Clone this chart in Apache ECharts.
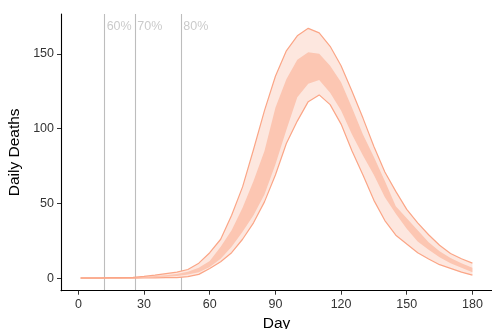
<!DOCTYPE html>
<html><head><meta charset="utf-8">
<script src="https://cdn.jsdelivr.net/npm/echarts@6/dist/echarts.min.js"></script>
<style>html,body{margin:0;padding:0;background:#fff}#c{width:492px;height:329px}</style>
</head><body><div id="c"></div>
<script>
const days = [1,5,10,15,20,25,30,35,40,45,50,55,60,65,70,75,80,85,90,95,100,105,110,115,120,125,130,135,140,145,150,155,160,165,170,175,180];
const outerUpper = [0.2,0.2,0.2,0.3,0.3,0.5,1.2,2.0,3.0,4.0,5.8,10,17,26,42,61,86,112,135,152,162,167,164,155,142,125,107,88,71,58,46,37,29,22,16.5,13,10];
const innerUpper = [0.1,0.1,0.1,0.2,0.2,0.3,0.8,1.4,2.0,2.8,4.2,7,11.5,21,32,47,65,85,114,133,146,151,150,142,131,114,96,81,65,48,40,32,24,18,13.5,10,7];
const innerLower = [0,0,0,0.1,0.1,0.2,0.4,0.7,1.0,1.5,2.4,4,7.5,13,21,31,42,56,76,99,121,130,132.5,124,112,96,82,69,54,43,33,24.5,19,14,10,7,4];
const outerLower = [0,0,0,0,0,0,0.1,0.2,0.3,0.4,1.0,2.5,6.5,11,17,26,37,51,69,90,105,118,122.5,116,103,85,69,52,38.5,28.7,22.8,17,12.8,9,6.5,4,2];
const markerDays = [12,26,47];
const markerLabels = ['60%','70%','80%'];
const xTicks = [0,30,60,90,120,150,180];
const yTicks = [0,50,100,150];

const LIGHT = '#FDE7DF', DARK = '#FCC6B2', LINE = '#FBA687';
const pairs = arr => days.map((d,i)=>[d, arr[i]]);
const labelY = 168;

// band polygon between two curves, drawn through the axis scales
function band(upper, lower, color, z){
  return {type:'custom', silent:true, z:z,
    data:[[0]],
    renderItem:(params, api)=>{
      const pts = [];
      days.forEach((d,i)=>pts.push(api.coord([d, upper[i]])));
      for(let i=days.length-1;i>=0;i--) pts.push(api.coord([days[i], lower[i]]));
      return {type:'polygon', shape:{points:pts}, style:{fill:color}};
    }};
}

const chart = echarts.init(document.getElementById('c'), null, {renderer:'canvas'});
chart.setOption({
  animation:false,
  grid:{left:61, right:0, top:14, bottom:38.3, containLabel:false, outerBoundsMode:'none'},
  xAxis:{type:'value', min:-7.95, max:188.95,
    name:'Day', nameLocation:'middle', nameGap:22,
    nameTextStyle:{fontSize:15.5, color:'#000', fontFamily:'Liberation Sans'},
    axisLine:{show:true, onZero:false, lineStyle:{color:'#000', width:1.1}},
    axisTick:{show:true, length:4, customValues:xTicks, lineStyle:{color:'#333', width:1}},
    axisLabel:{customValues:xTicks, margin:7, fontSize:12.5, color:'#333', fontFamily:'Liberation Sans'},
    splitLine:{show:false}},
  yAxis:{type:'value', min:-8.4, max:176.6,
    name:'Daily Deaths', nameLocation:'middle', nameGap:26,
    nameTextStyle:{fontSize:15.5, color:'#000', fontFamily:'Liberation Sans'},
    axisLine:{show:true, onZero:false, lineStyle:{color:'#000', width:1.1}},
    axisTick:{show:true, length:4, customValues:yTicks, lineStyle:{color:'#333', width:1}},
    axisLabel:{customValues:yTicks, margin:7, fontSize:12.5, color:'#333', fontFamily:'Liberation Sans'},
    splitLine:{show:false}},
  series:[
    band(outerUpper, outerLower, LIGHT, 1),
    band(innerUpper, innerLower, DARK, 2),
    {type:'line', data:pairs(outerUpper), symbol:'none', silent:true, z:3, lineStyle:{color:LINE, width:1.2}},
    {type:'line', data:pairs(outerLower), symbol:'none', silent:true, z:3, lineStyle:{color:LINE, width:1.2}},
    {type:'scatter', symbolSize:0, silent:true, z:4,
      data: markerDays.map((d,i)=>[d, labelY, markerLabels[i]]),
      label:{show:true, position:'right', distance:2, formatter:p=>p.value[2], fontSize:12.5, color:'#bdbdbd', fontFamily:'Liberation Sans'},
      markLine:{silent:true, symbol:['none','none'], label:{show:false}, z:0,
        lineStyle:{color:'#bdbdbd', type:'solid', width:1.1},
        data: markerDays.map(d=>({xAxis:d}))}}
  ]
});
</script>
</body></html>
